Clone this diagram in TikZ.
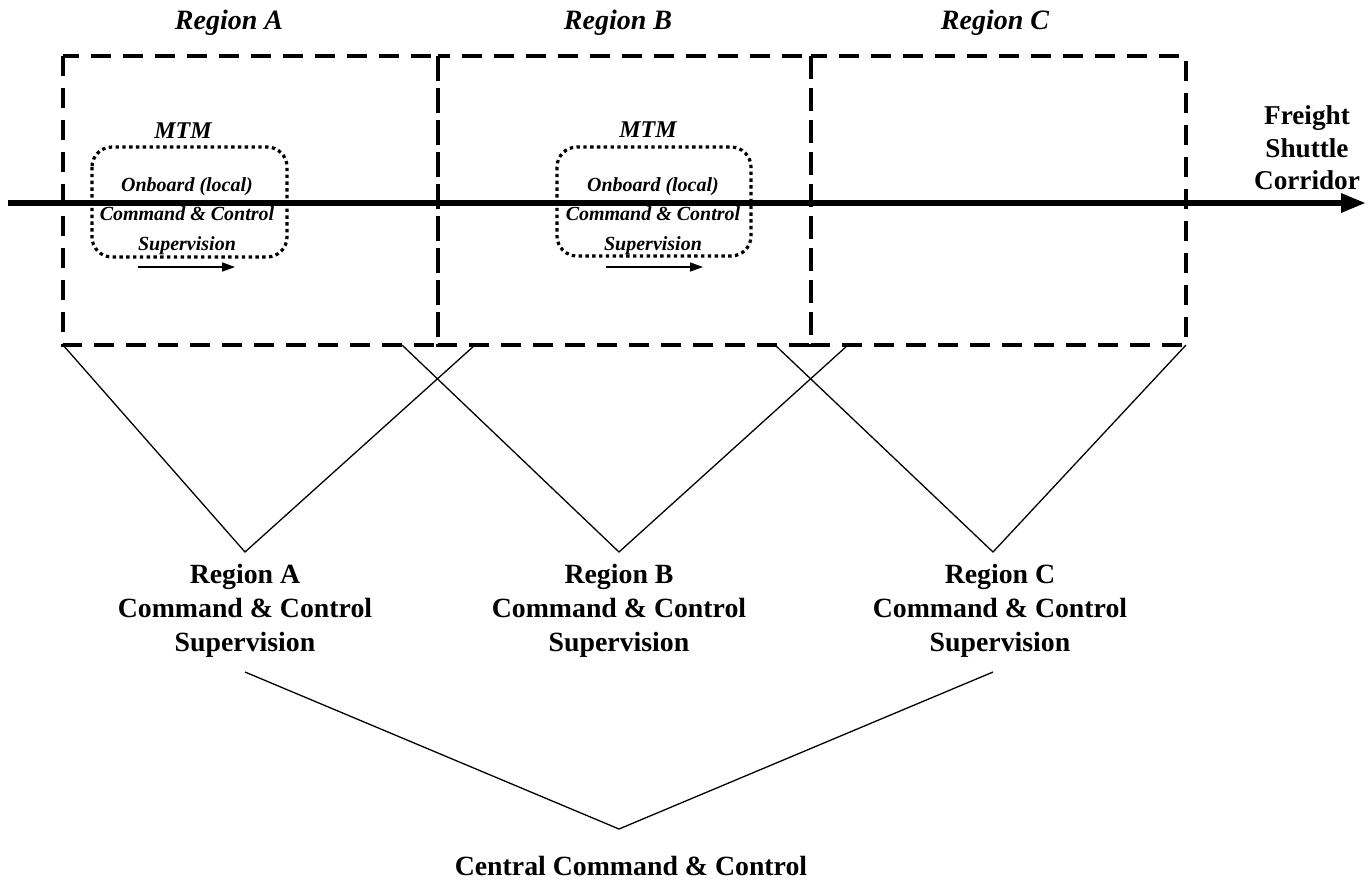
\documentclass[tikz,border=0pt]{standalone}
\usepackage{fontspec}
\setmainfont{Liberation Serif}
\usetikzlibrary{arrows.meta}

\begin{document}
\begin{tikzpicture}[x=0.5pt,y=-0.5pt,
  regionbox/.style={line width=1.75pt, dash pattern=on 10pt off 6pt},
  mtmbox/.style={line width=1.6pt, dash pattern=on 1.7pt off 1.7pt, rounded corners=10pt},
  link/.style={line width=0.65pt},
  corridor/.style={line width=3pt, -{Triangle[length=12.5pt,width=9pt]}},
  travel/.style={line width=0.7pt, -{Triangle[length=6.5pt,width=4.5pt]}},
  regiontitle/.style={font=\fontsize{14}{17}\selectfont\bfseries\itshape},
  mtmtitle/.style={font=\fontsize{12}{14}\selectfont\bfseries\itshape},
  onboard/.style={font=\fontsize{10}{14.8}\selectfont\bfseries\itshape, align=center, inner sep=0pt},
  label/.style={font=\fontsize{13.9}{17}\selectfont\bfseries, align=center, inner sep=0pt},
]
\useasboundingbox (0,0) rectangle (1370,880);

% region boxes
\coordinate (A1) at (63,56);   \coordinate (A2) at (438,345);
\coordinate (B1) at (438,56);  \coordinate (B2) at (811,345);
\coordinate (C1) at (811,56);  \coordinate (C2) at (1186,345);
\draw[regionbox] (A1) rectangle (A2);
\draw[regionbox] (B1) rectangle (B2);
\draw[regionbox] (C1) rectangle (C2);

\node[regiontitle] (tA) at (229,23) {Region A};
\node[regiontitle] (tB) at (618,23) {Region B};
\node[regiontitle] (tC) at (995,23) {Region C};

% corridor
\coordinate (corS) at (8,203);
\coordinate (corE) at (1366,203);
\draw[corridor] (corS) -- (corE);
\node[label, font=\fontsize{13.6}{16.3}\selectfont\bfseries] (fsc) at (1307,148) {Freight\\Shuttle\\Corridor};

% MTM units
\draw[mtmbox] (92,147) rectangle (287,257);
\node[mtmtitle] (mtmA) at (183,131) {MTM};
\node[onboard] (obA) at (187,216) {Onboard (local)\\Command \& Control\\Supervision};
\coordinate (mvA1) at (138,267); \coordinate (mvA2) at (235,267);
\draw[travel] (mvA1) -- (mvA2);

\draw[mtmbox] (557,147) rectangle (751,256);
\node[mtmtitle] (mtmB) at (648,130) {MTM};
\node[onboard] (obB) at (653,216) {Onboard (local)\\Command \& Control\\Supervision};
\coordinate (mvB1) at (606,267); \coordinate (mvB2) at (703,267);
\draw[travel] (mvB1) -- (mvB2);

% regional supervision links
\coordinate (vA) at (245,552);
\coordinate (vB) at (619,552);
\coordinate (vC) at (993,552);
\coordinate (aL) at (63,345);  \coordinate (aR) at (475,345);
\coordinate (bL) at (402,345); \coordinate (bR) at (848,345);
\coordinate (cL) at (775,345); \coordinate (cR) at (1186,345);
\draw[link] (aL) -- (vA) -- (aR);
\draw[link] (bL) -- (vB) -- (bR);
\draw[link] (cL) -- (vC) -- (cR);

\node[label] (sA) at (245,611) {Region A\\Command \& Control\\Supervision};
\node[label] (sB) at (619,611) {Region B\\Command \& Control\\Supervision};
\node[label] (sC) at (1000,611) {Region C\\Command \& Control\\Supervision};

% central links
\coordinate (kA) at (245,672);
\coordinate (kC) at (993,672);
\coordinate (vK) at (619,829);
\draw[link] (kA) -- (vK) -- (kC);
\node[label] (cc) at (631,866) {Central Command \& Control};
\end{tikzpicture}
\end{document}
